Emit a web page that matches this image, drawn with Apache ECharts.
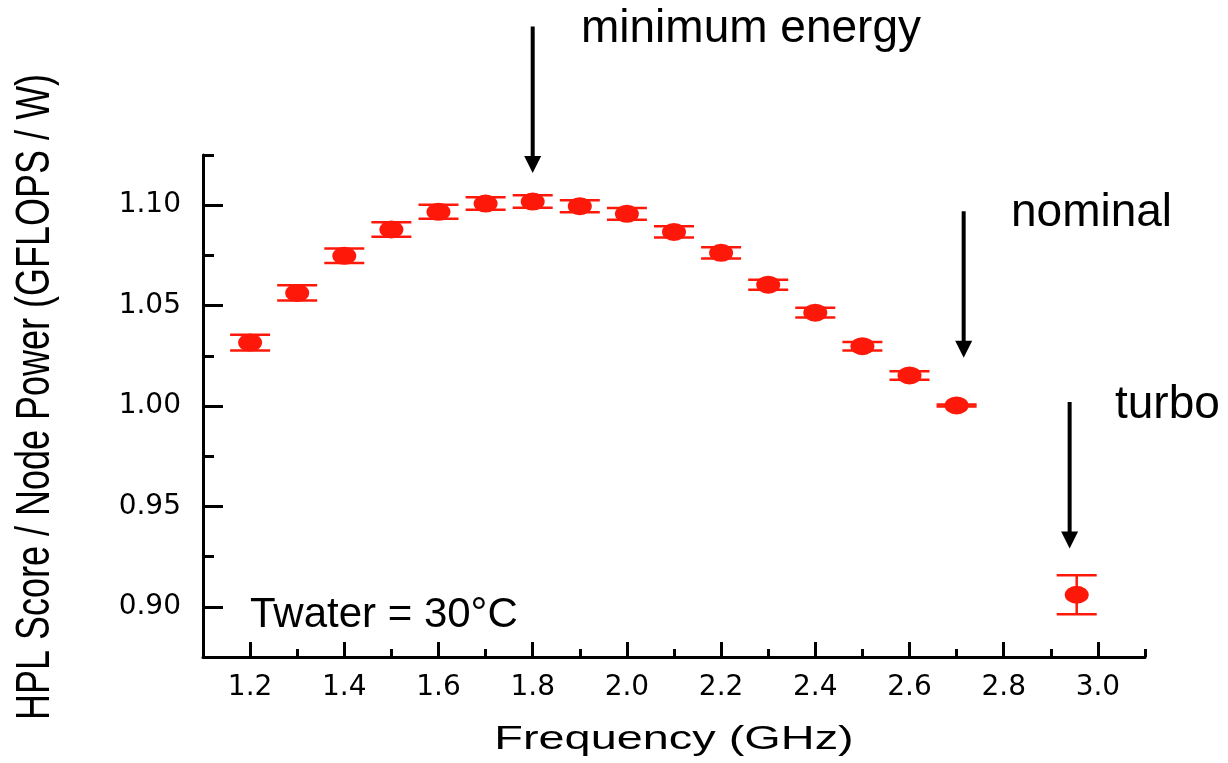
<!DOCTYPE html>
<html>
<head>
<meta charset="utf-8">
<script src="https://cdn.jsdelivr.net/npm/echarts@6/dist/echarts.min.js"></script>
<style>
  html, body { margin: 0; padding: 0; background: #fff; }
  #chart { width: 1228px; height: 763px; }
</style>
</head>
<body>
<div id="chart"></div>
<script>
// clock frequency steps (GHz) -- the last one is the turbo point
const freqs = [1.2, 1.3, 1.4, 1.5, 1.6, 1.7, 1.8, 1.9, 2.0, 2.1, 2.2, 2.3, 2.4, 2.5, 2.6, 2.7, 2.955];
// HPL score / node power (GFLOPS / W)
const scores = [1.0316, 1.0563, 1.0748, 1.0879, 1.0967, 1.1008, 1.1018, 1.0995, 1.0957,
  1.0867, 1.0763, 1.0604, 1.0465, 1.0298, 1.0152, 1.0003, 0.906];
// half height of the error bars
const errs = [0.0039, 0.0038, 0.0036, 0.0036, 0.0035, 0.0031, 0.0031, 0.0030, 0.0029,
  0.0028, 0.0028, 0.0025, 0.0024, 0.0021, 0.0021, 0.0005, 0.0097];

const xTickLabels = [1.2, 1.4, 1.6, 1.8, 2.0, 2.2, 2.4, 2.6, 2.8, 3.0];
const xMinorTicks = [1.3, 1.5, 1.7, 1.9, 2.1, 2.3, 2.5, 2.7, 2.9, 3.1];
const yTickLabels = [0.90, 0.95, 1.00, 1.05, 1.10];
const yMinorTicks = [0.925, 0.975, 1.025, 1.075, 1.125];

const xTitle = 'Frequency (GHz)';
const yTitle = 'HPL Score / Node Power (GFLOPS / W)';

// annotation arrows: [x, y where it starts, y of the tip]
const arrowNames = ['minimum energy', 'nominal', 'turbo'];
const arrowX = [1.8, 2.715, 2.94];
const arrowFrom = [1.189, 1.097, 1.002];
const arrowTo = [1.116, 1.024, 0.929];

const RED = '#fe180a';
const labelFont = 'DejaVu Sans';

var chart = echarts.init(document.getElementById('chart'));

function renderErrorBar(params, api) {
  let x = api.value(0);
  let lo = api.coord([x, api.value(1)]);
  let hi = api.coord([x, api.value(2)]);
  let half = 20;
  let style = { stroke: RED, lineWidth: 2.5 };
  return {
    type: 'group',
    children: [
      { type: 'line', shape: { x1: lo[0], y1: lo[1], x2: hi[0], y2: hi[1] }, style: style },
      { type: 'line', shape: { x1: lo[0] - half, y1: lo[1], x2: lo[0] + half, y2: lo[1] }, style: style },
      { type: 'line', shape: { x1: hi[0] - half, y1: hi[1], x2: hi[0] + half, y2: hi[1] }, style: style }
    ]
  };
}

let points = freqs.map((f, i) => [f, scores[i]]);
let bars = freqs.map((f, i) => [f, scores[i] - errs[i], scores[i] + errs[i]]);

let axisLineStyle = { color: '#000', width: 3 };

var option = {
  animation: false,
  backgroundColor: '#fff',
  grid: { left: 203, right: 83, top: 155, bottom: 106, outerBoundsMode: 'none' },
  xAxis: [
    {
      type: 'value', min: 1.1, max: 3.1,
      axisLine: { lineStyle: axisLineStyle },
      axisTick: { inside: true, length: 15, customValues: xTickLabels, lineStyle: { color: '#000', width: 3 } },
      axisLabel: {
        customValues: xTickLabels, margin: 17,
        fontFamily: labelFont, fontSize: 28, color: '#000',
        formatter: v => v.toFixed(1)
      },
      splitLine: { show: false }
    },
    {
      // minor ticks only
      type: 'value', min: 1.1, max: 3.1, position: 'bottom',
      axisLine: { show: false },
      axisTick: { inside: true, length: 8, customValues: xMinorTicks, lineStyle: { color: '#000', width: 3 } },
      axisLabel: { show: false },
      splitLine: { show: false }
    }
  ],
  yAxis: [
    {
      type: 'value', min: 0.875, max: 1.125,
      axisLine: { show: true, lineStyle: axisLineStyle },
      axisTick: { show: true, inside: true, length: 20, customValues: yTickLabels, lineStyle: { color: '#000', width: 3 } },
      axisLabel: {
        customValues: yTickLabels, margin: 22,
        fontFamily: labelFont, fontSize: 28, color: '#000',
        formatter: v => v.toFixed(2)
      },
      splitLine: { show: false }
    },
    {
      type: 'value', min: 0.875, max: 1.125, position: 'left',
      axisLine: { show: false },
      axisTick: { show: true, inside: true, length: 11, customValues: yMinorTicks, lineStyle: { color: '#000', width: 3 } },
      axisLabel: { show: false },
      splitLine: { show: false }
    }
  ],
  series: [
    {
      type: 'custom',
      renderItem: renderErrorBar,
      encode: { x: 0, y: [1, 2] },
      data: bars,
      z: 2
    },
    {
      type: 'scatter',
      symbol: 'circle',
      symbolSize: [24, 18],
      itemStyle: { color: RED, opacity: 1 },
      data: points,
      z: 3
    }
  ]
};

chart.setOption(option);

// arrows are placed in data space, text next to them
let graphics = [];
arrowX.forEach((x, i) => {
  let p0 = chart.convertToPixel({ gridIndex: 0 }, [x, arrowFrom[i]]);
  let p1 = chart.convertToPixel({ gridIndex: 0 }, [x, arrowTo[i]]);
  graphics.push({
    type: 'line',
    shape: { x1: p0[0], y1: p0[1], x2: p1[0], y2: p1[1] - 12 },
    style: { stroke: '#000', lineWidth: 4 }
  });
  graphics.push({
    type: 'polygon',
    shape: { points: [[p1[0] - 8.5, p1[1] - 17], [p1[0] + 8.5, p1[1] - 17], [p1[0], p1[1]]] },
    style: { fill: '#000' }
  });
});

let annFont = '46px "Liberation Sans"';
graphics.push({ type: 'text', x: 581, y: 6, style: { text: arrowNames[0], font: annFont, fill: '#000' } });
graphics.push({ type: 'text', x: 1011, y: 190, style: { text: arrowNames[1], font: annFont, fill: '#000' } });
graphics.push({ type: 'text', x: 1115, y: 382, style: { text: arrowNames[2], font: annFont, fill: '#000' } });
graphics.push({ type: 'text', x: 250, y: 594, style: { text: 'Twater = 30°C', font: '42px "Liberation Sans"', fill: '#000' } });

// axis titles: the original figure is stretched sideways, so the titles are scaled
graphics.push({
  type: 'text', x: 674, y: 740, scaleX: 1.42,
  style: { text: xTitle, font: '33px "Liberation Sans"', fill: '#000', align: 'center', verticalAlign: 'middle' }
});
graphics.push({
  type: 'text', x: 36, y: 397, rotation: Math.PI / 2, scaleY: 1.35,
  style: { text: yTitle, font: '36px "Liberation Sans"', fill: '#000', align: 'center', verticalAlign: 'middle' }
});

chart.setOption({ graphic: graphics });
</script>
</body>
</html>
